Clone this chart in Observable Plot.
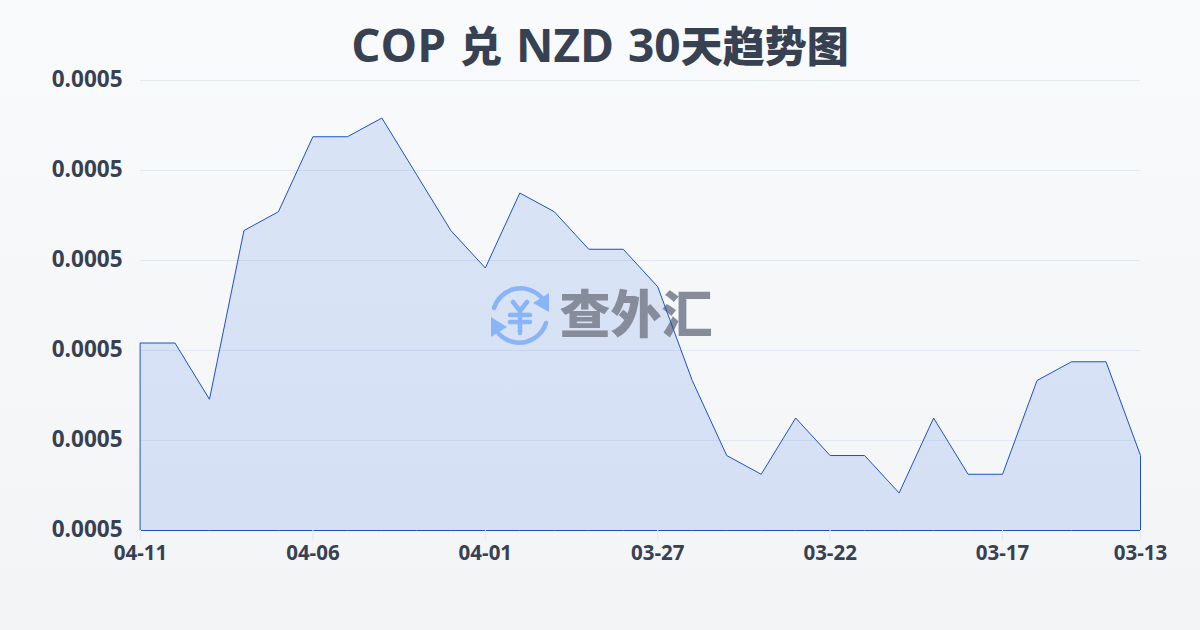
<!DOCTYPE html>
<html><head><meta charset="utf-8">
<script src="https://cdn.jsdelivr.net/npm/d3@7"></script>
<script src="https://cdn.jsdelivr.net/npm/@observablehq/plot@0.6"></script>
<style>
html,body{margin:0;padding:0;width:1200px;height:630px;overflow:hidden}
body{background:linear-gradient(180deg,#f8fafc,#f3f4f6);font-family:"Open Sans","Noto Sans CJK SC",sans-serif}
#title{height:70px;line-height:88px;text-align:center;font-size:46px;font-weight:700;color:#374151;word-spacing:2px;font-family:"Open Sans","Noto Sans CJK SC",sans-serif}
#title span{font-size:42px;font-weight:900;font-family:"Noto Sans CJK SC",sans-serif}
svg{display:block;background:transparent!important;font-family:"Open Sans","Noto Sans CJK SC",sans-serif}
</style></head><body>
<div id="title">COP <span>兑</span> NZD 30<span>天趋势图</span></div>
<div id="chart"></div>
<script>
const dates=["04-11","04-10","04-09","04-08","04-07","04-06","04-05","04-04","04-03","04-02","04-01","03-31","03-30","03-29","03-28","03-27","03-26","03-25","03-24","03-23","03-22","03-21","03-20","03-19","03-18","03-17","03-16","03-15","03-14","03-13"];
const rates=[0.00048083,0.00048083,0.00047458,0.00049333,0.00049542,0.00050375,0.00050375,0.00050583,0.00049958,0.00049333,0.00048917,0.0004975,0.00049542,0.00049125,0.00049125,0.00048708,0.00047667,0.00046833,0.00046625,0.0004725,0.00046833,0.00046833,0.00046417,0.0004725,0.00046625,0.00046625,0.00047667,0.00047875,0.00047875,0.00046833];
const xTicks=["04-11","04-06","04-01","03-27","03-22","03-17","03-13"];
const yTicks=[0.00046,0.00047,0.00048,0.00049,0.0005,0.00051];
const base=0.00046;
const table=dates.map((d,i)=>({d,v:rates[i]}));
const NS="http://www.w3.org/2000/svg";
function watermark(){
  const g=document.createElementNS(NS,"g");
  g.setAttribute("transform","translate(0,-70)");
  g.innerHTML=`<g fill="none" stroke="#8ab4f8" stroke-width="4.5" stroke-linecap="round">
    <path d="M494 308 A28 28 0 0 1 541 297"/><path d="M546 323 A28 28 0 0 1 499 334"/>
    <path d="M513 302 L520 311 L527 302 M510 315 H530 M510 322 H530 M520 311 V333"/></g>
    <path d="M549 293 V312 L533 303 Z M491 317 L507 327 L491 337 Z" fill="#8ab4f8"/>
    <text x="636" y="333" text-anchor="middle" font-size="51" font-weight="900" fill="#868c99" style="font-family:'Noto Sans CJK SC'">查外汇</text>`;
  return g;
}
const plot=Plot.plot({
  width:1200,height:560,marginLeft:140,marginRight:60,marginTop:10,marginBottom:100,
  style:{background:"transparent",overflow:"visible",fontFamily:"'Open Sans','Noto Sans CJK SC',sans-serif"},
  x:{type:"point",domain:dates,label:null,padding:0,round:false},
  y:{domain:[0.00046,0.00051],label:null},
  marks:[
    Plot.ruleY(yTicks,{stroke:"#e2e8f0",strokeWidth:1}),
    Plot.areaY(table,{x:"d",y1:base,y2:"v",fill:"#2560e0",fillOpacity:0.14,dx:0.5,dy:0.5}),
    watermark,
    Plot.areaY(table,{x:"d",y1:base,y2:"v",fill:"none",stroke:"#1d52c4",strokeWidth:1,dx:0.5,dy:0.5}),
    Plot.axisY({ticks:yTicks,tickSize:0,tickPadding:18,tickFormat:v=>v.toFixed(4),fontSize:22.5,fontWeight:700,fill:"#374151",label:null,dy:-1}),
    Plot.axisX({ticks:xTicks,tickSize:10,stroke:"#e2e8f0",tickPadding:5,fontSize:20.5,fontWeight:700,fill:"#374151",label:null})
  ]
});
document.getElementById("chart").append(plot);
</script></body></html>
